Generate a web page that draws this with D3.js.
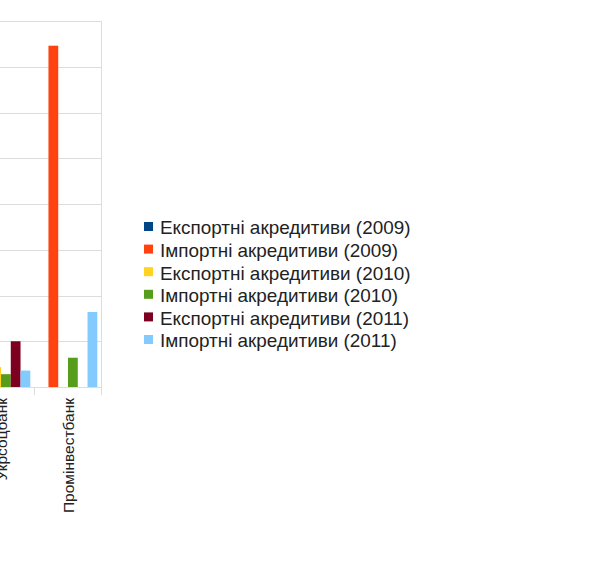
<!DOCTYPE html>
<html>
<head>
<meta charset="utf-8">
<script src="https://cdn.jsdelivr.net/npm/d3@7"></script>
<style>
  body { margin: 0; background: #fff; }
  text { font-family: "Liberation Sans", Arial, sans-serif; }
</style>
</head>
<body>
<div id="chart"></div>
<script>
// категорії (видимі в кадрі)
const banks = ["Укрсоцбанк", "Промінвестбанк"];
const seriesNames = [
  "Експортні акредитиви (2009)",
  "Імпортні акредитиви (2009)",
  "Експортні акредитиви (2010)",
  "Імпортні акредитиви (2010)",
  "Експортні акредитиви (2011)",
  "Імпортні акредитиви (2011)"
];
const colors = ["#004586", "#ff420e", "#ffd320", "#579d1c", "#7e0021", "#83caff"];
// значення по банках, порядок як у seriesNames
const ukrsotsValues = [0, 0, 22, 14, 50, 18];
const prominvestValues = [0, 373, 0, 32, 0, 82];
const yTicks = [0, 50, 100, 150, 200, 250, 300, 350, 400];

const width = 598, height = 579;
const plotTop = 21, plotBottom = 387, plotRight = 101.5;

const svg = d3.select("#chart").append("svg")
  .attr("width", width)
  .attr("height", height);

const values = [ukrsotsValues, prominvestValues];
const data = banks.map((b, i) => ({ bank: b, values: values[i] }));

const x0 = d3.scaleBand().domain(banks).range([plotRight - 134, plotRight]);
const x1 = d3.scaleBand().domain(d3.range(seriesNames.length))
  .range([4.2, x0.bandwidth() - 4.2]);
const y = d3.scaleLinear().domain([0, 400]).range([plotBottom, plotTop]);

// сітка
svg.append("g")
  .selectAll("line")
  .data(yTicks)
  .enter()
  .append("line")
  .attr("x1", -200)
  .attr("x2", plotRight)
  .attr("y1", (d) => Math.round(y(d)) + 0.5)
  .attr("y2", (d) => Math.round(y(d)) + 0.5)
  .attr("stroke", "#dcdcdc");

// права межа і поділки осі x
svg.append("line")
  .attr("x1", plotRight).attr("x2", plotRight)
  .attr("y1", plotTop).attr("y2", plotBottom + 8)
  .attr("stroke", "#dcdcdc");

svg.append("g")
  .selectAll("line")
  .data(banks)
  .enter()
  .append("line")
  .attr("x1", (d) => x0(d))
  .attr("x2", (d) => x0(d))
  .attr("y1", plotBottom)
  .attr("y2", plotBottom + 8)
  .attr("stroke", "#dcdcdc");

// стовпці
const groups = svg.append("g")
  .selectAll("g")
  .data(data)
  .enter()
  .append("g")
  .attr("transform", (d) => `translate(${x0(d.bank)},0)`);

groups.selectAll("rect")
  .data((d) => d.values.map((v, i) => ({ v: v, i: i })))
  .enter()
  .append("rect")
  .attr("x", (d) => x1(d.i))
  .attr("y", (d) => y(d.v))
  .attr("width", x1.bandwidth())
  .attr("height", (d) => y(0) - y(d.v))
  .attr("fill", (d) => colors[d.i]);

// підписи категорій
svg.append("g")
  .selectAll("text")
  .data(banks)
  .enter()
  .append("text")
  .attr("transform", (d) => `translate(${x0(d) + x0.bandwidth() / 2 + 5.5},398) rotate(-90)`)
  .attr("text-anchor", "end")
  .attr("font-size", 15.5)
  .attr("fill", "#222")
  .text((d) => d);

// легенда
const rowH = 22.6;
const legend = svg.append("g").attr("transform", "translate(144,222)");
legend.selectAll("rect")
  .data(seriesNames)
  .enter()
  .append("rect")
  .attr("x", 0)
  .attr("y", (d, i) => i * rowH)
  .attr("width", 9)
  .attr("height", 9)
  .attr("fill", (d, i) => colors[i]);

legend.selectAll("text")
  .data(seriesNames)
  .enter()
  .append("text")
  .attr("transform", (d, i) => `translate(16,${i * rowH + 12.3}) scale(1.08,1)`)
  .attr("font-size", 17.5)
  .attr("fill", "#222")
  .text((d) => d);
</script>
</body>
</html>
